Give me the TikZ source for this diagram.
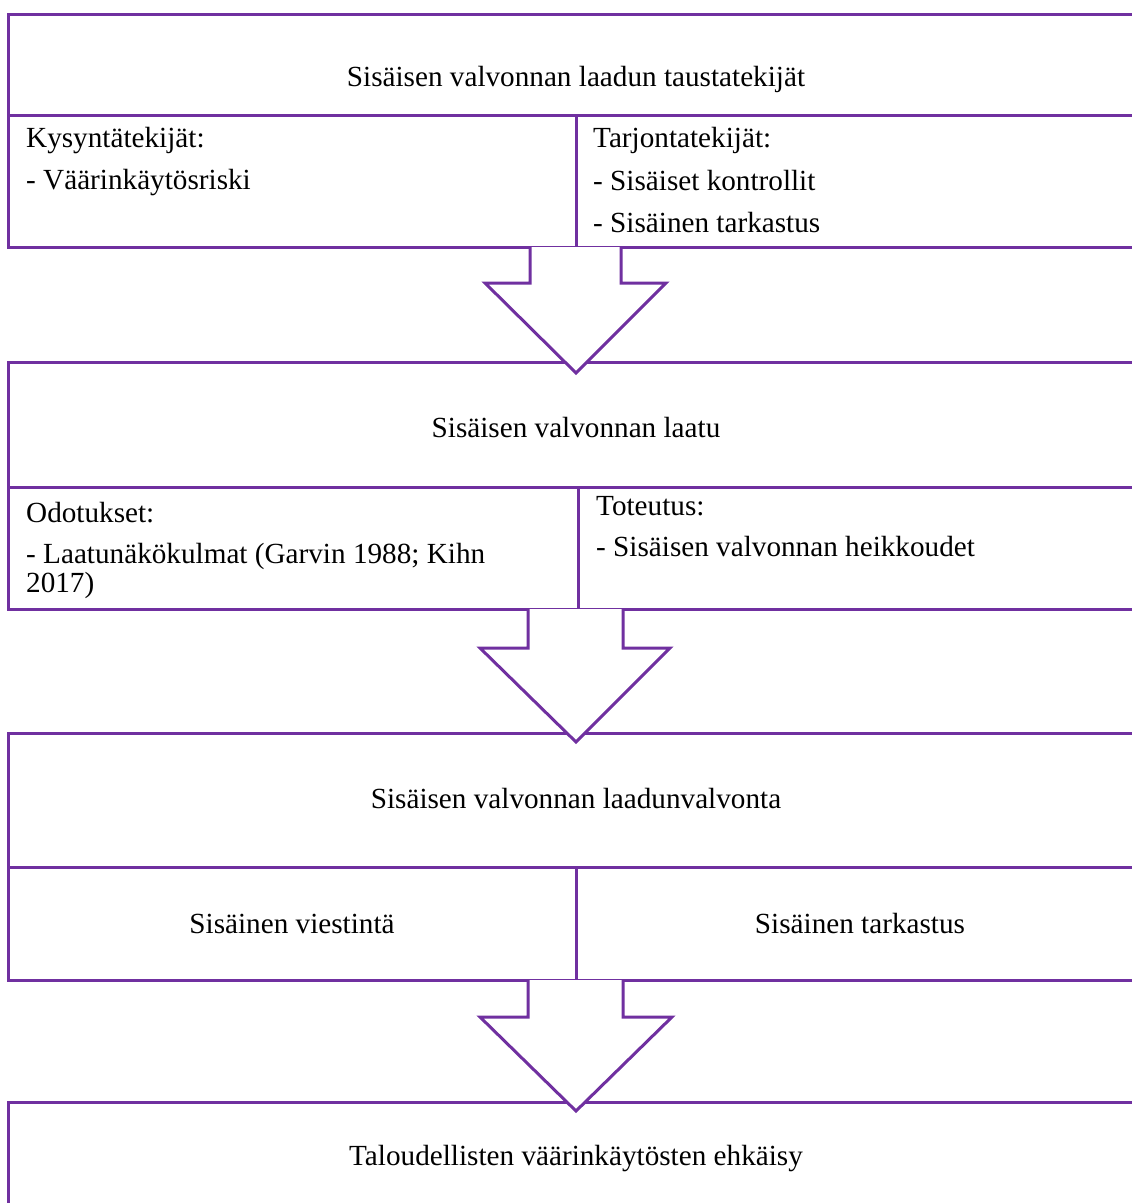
\documentclass[tikz,border=0pt]{standalone}
\usepackage{fontspec}
\setmainfont{Liberation Serif}
\definecolor{vpurple}{HTML}{7030A0}
\begin{document}
\begin{tikzpicture}[x=1pt,y=-1pt,
  box/.style={draw=vpurple, line width=3pt},
  blockarrow/.style={draw=vpurple, fill=white, line width=3pt, line join=miter},
  txt/.style={inner sep=0pt, font=\fontsize{29.2}{35}\selectfont},
]
\useasboundingbox (0,0) rectangle (1132,1203);
\clip (0,0) rectangle (1132,1203);
% Box 1
\draw[box] (1160,14) -- (8,14) -- (8,247) -- (1160,247);
\draw[box] (8,115) -- (1160,115);
\draw[box] (576,115) -- (576,247);
% Box 2
\draw[box] (1160,362) -- (8,362) -- (8,609) -- (1160,609);
\draw[box] (8,487) -- (1160,487);
\draw[box] (578,487) -- (578,609);
% Box 3
\draw[box] (1160,733) -- (8,733) -- (8,980) -- (1160,980);
\draw[box] (8,867) -- (1160,867);
\draw[box] (576,867) -- (576,980);
% Box 4
\draw[box] (1160,1102) -- (8,1102) -- (8,1220);
% Block arrows
\coordinate (t1) at (576,373);
\coordinate (t2) at (576,742);
\coordinate (t3) at (576,1111);
\draw[blockarrow] (530,247) -- (530,283) -- (485,283) -- (t1) -- (666,283) -- (621,283) -- (621,247);
\draw[blockarrow] (528,609) -- (528,648) -- (480,648) -- (t2) -- (670,648) -- (623,648) -- (623,609);
\draw[blockarrow] (528,980) -- (528,1017) -- (480,1017) -- (t3) -- (672,1017) -- (623,1017) -- (623,980);
% Texts
\node[txt, anchor=base] (h1) at (576,86) {Sisäisen valvonnan laadun taustatekijät};
\node[txt, anchor=base west] (k1) at (26,147) {Kysyntätekijät:};
\node[txt, anchor=base west] (k2) at (26,189) {- Väärinkäytösriski};
\node[txt, anchor=base west] (r1) at (593,147) {Tarjontatekijät:};
\node[txt, anchor=base west] (r2) at (593,190) {- Sisäiset kontrollit};
\node[txt, anchor=base west] (r3) at (593,232) {- Sisäinen tarkastus};
\node[txt, anchor=base] (h2) at (576,437) {Sisäisen valvonnan laatu};
\node[txt, anchor=base west] (o1) at (26,522) {Odotukset:};
\node[txt, anchor=base west] (o2) at (26,563) {- Laatunäkökulmat (Garvin 1988; Kihn};
\node[txt, anchor=base west] (o3) at (26,592) {2017)};
\node[txt, anchor=base west] (s1) at (596,515) {Toteutus:};
\node[txt, anchor=base west] (s2) at (596,556) {- Sisäisen valvonnan heikkoudet};
\node[txt, anchor=base] (h3) at (576,808) {Sisäisen valvonnan laadunvalvonta};
\node[txt, anchor=base] (v1) at (292,933) {Sisäinen viestintä};
\node[txt, anchor=base] (v2) at (860,933) {Sisäinen tarkastus};
\node[txt, anchor=base] (h4) at (576,1165) {Taloudellisten väärinkäytösten ehkäisy};
\end{tikzpicture}
\end{document}
